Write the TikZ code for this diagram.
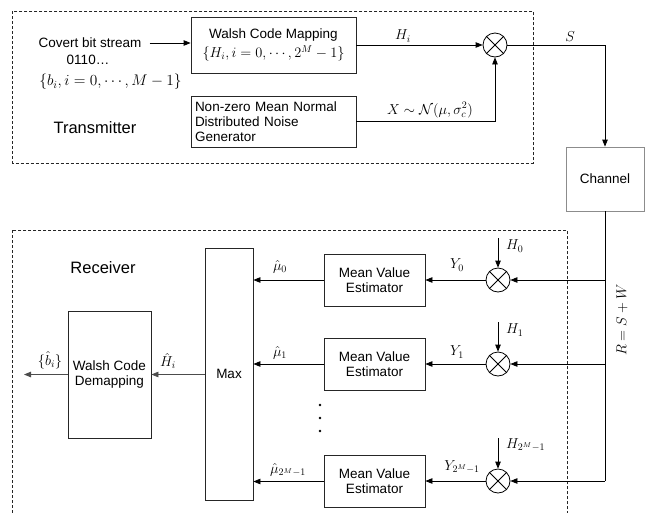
\RequirePackage{fix-cm}
\documentclass[tikz,border=0pt]{standalone}
\usepackage{fontspec}
\setmainfont{Liberation Sans}
\usetikzlibrary{arrows.meta}
\begin{document}
\begin{tikzpicture}[x=1pt,y=-1pt,
  txt/.style={font=\fontsize{13.5}{15}\selectfont, inner sep=0pt},
  mth/.style={font=\fontsize{14.4}{16}\selectfont, inner sep=0pt},
  ttl/.style={font=\fontsize{16.5}{18}\selectfont, inner sep=0pt},
  blk/.style={draw=black!85, line width=0.8pt, inner sep=0pt, font=\fontsize{13.5}{15}\selectfont, align=center},
  mult/.style={draw, circle, minimum size=24pt, inner sep=0pt, line width=0.8pt},
  conn/.style={line width=0.8pt, -{Triangle[length=7pt,width=5.5pt]}},
  plain/.style={line width=0.8pt},
  dbox/.style={draw=black!85, line width=0.7pt, dash pattern=on 3pt off 2pt}
]
\useasboundingbox (0,0) rectangle (648,512);

% dashed frames
\draw[dbox] (12.7,11) rectangle (533,163);
\draw[dbox] (12.7,230) rectangle (567,530);

% transmitter
\node[txt] (covert) at (90,43) {Covert bit stream};
\node[txt] (bits) at (88,60) {0110…};
\node[mth, font=\fontsize{15.4}{17}\selectfont] (bset) at (110.5,82) {$\{b_i, i=0,\cdots,M-1\}$};
\node[ttl] (tx) at (95,128) {Transmitter};

\node[blk, minimum width=165pt, minimum height=56pt] (walsh) at (273.5,45)
  {Walsh Code Mapping\\[4pt]{\fontsize{14.4}{16}\selectfont$\{H_i, i=0,\cdots,2^M-1\}$}};
\node[blk, minimum width=165pt, minimum height=51pt, text width=157pt, align=left] (noise) at (273.5,121.5)
  {\fontsize{13.5}{14.5}\selectfont Non-zero Mean Normal\\Distributed Noise\\Generator};

\node[mult] (mT) at (495,45) {};
\draw[plain] (mT.north west) -- (mT.south east) (mT.north east) -- (mT.south west);

\node[blk, draw=black!45, minimum width=78pt, minimum height=64pt] (chan) at (605,179) {Channel};

\draw[conn] (covert.east) ++(8,0) coordinate (cs) -- (cs -| walsh.west);
\draw[conn] (walsh.east |- mT) -- (mT.west);
\node[mth] (lHi) at (403,36) {$H_i$};
\draw[conn] (noise.east) -| (mT.south);
\node[mth] (lX) at (430,110) {$X\sim\mathcal{N}(\mu,\sigma_c^2)$};
\draw[conn] (mT.east) -| (chan.north);
\node[mth] (lS) at (570,37) {$S$};

% receiver
\node[ttl] (rx) at (103,268) {Receiver};

\node[mult] (m0) at (498,280) {};
\node[mult] (m1) at (498,364) {};
\node[mult] (m2) at (498,481) {};
\foreach \m in {m0,m1,m2}
  \draw[plain] (\m.north west) -- (\m.south east) (\m.north east) -- (\m.south west);

\coordinate (rbot) at (chan.south |- m2);
\draw[plain] (chan.south) -- (rbot);
\node[mth, rotate=90] (lR) at (622,320) {$R=S+W$};
\draw[conn] (chan.south |- m0) -- (m0.east);
\draw[conn] (chan.south |- m1) -- (m1.east);
\draw[conn] (rbot) -- (m2.east);

\coordinate (h0) at (498,238);
\coordinate (h1) at (498,322);
\coordinate (h2) at (498,438);
\draw[conn] (h0) -- (m0.north);
\draw[conn] (h1) -- (m1.north);
\draw[conn] (h2) -- (m2.north);
\node[mth, anchor=west] (lH0) at (506,246) {$H_0$};
\node[mth, anchor=west] (lH1) at (506,330) {$H_1$};
\node[mth, anchor=west] (lH2) at (506,445) {$H_{2^M-1}$};

\node[blk, minimum width=101pt, minimum height=52pt] (e0) at (374.5,280) {Mean Value\\Estimator};
\node[blk, minimum width=101pt, minimum height=52pt] (e1) at (374.5,364) {Mean Value\\Estimator};
\node[blk, minimum width=101pt, minimum height=52pt] (e2) at (374.5,481.5) {Mean Value\\Estimator};

\draw[conn] (m0.west) -- (e0.east);
\draw[conn] (m1.west) -- (e1.east);
\draw[conn] (m2.west) -- (e2.east |- m2);
\node[mth] (lY0) at (457,265) {$Y_0$};
\node[mth] (lY1) at (457,352) {$Y_1$};
\node[mth] (lY2) at (462,467) {$Y_{2^M-1}$};

\node[blk, minimum width=48pt, minimum height=252pt] (max) at (229,374) {Max};
\draw[conn] (e0.west) -- (e0.west -| max.east);
\draw[conn] (e1.west) -- (e1.west -| max.east);
\draw[conn] (e2.west) -- (e2.west -| max.east);
\node[mth] (lm0) at (280,267) {$\hat\mu_0$};
\node[mth] (lm1) at (280,353) {$\hat\mu_1$};
\node[mth] (lm2) at (288,470) {$\hat\mu_{2^M-1}$};

\fill (320,405) circle (1.3pt);
\fill (320,418) circle (1.3pt);
\fill (320,431) circle (1.3pt);

\node[blk, minimum width=83pt, minimum height=127pt] (demap) at (109.5,374.5) {Walsh Code\\Demapping};
\draw[conn, draw=black!70] (max.west |- demap) -- (demap.east);
\node[mth] (lHh) at (168,361) {$\hat H_i$};
\coordinate (out) at (24,374.5);
\draw[conn, draw=black!70] (demap.west) -- (out);
\node[mth] (lb) at (50,360) {$\{\hat b_i\}$};
\end{tikzpicture}
\end{document}
